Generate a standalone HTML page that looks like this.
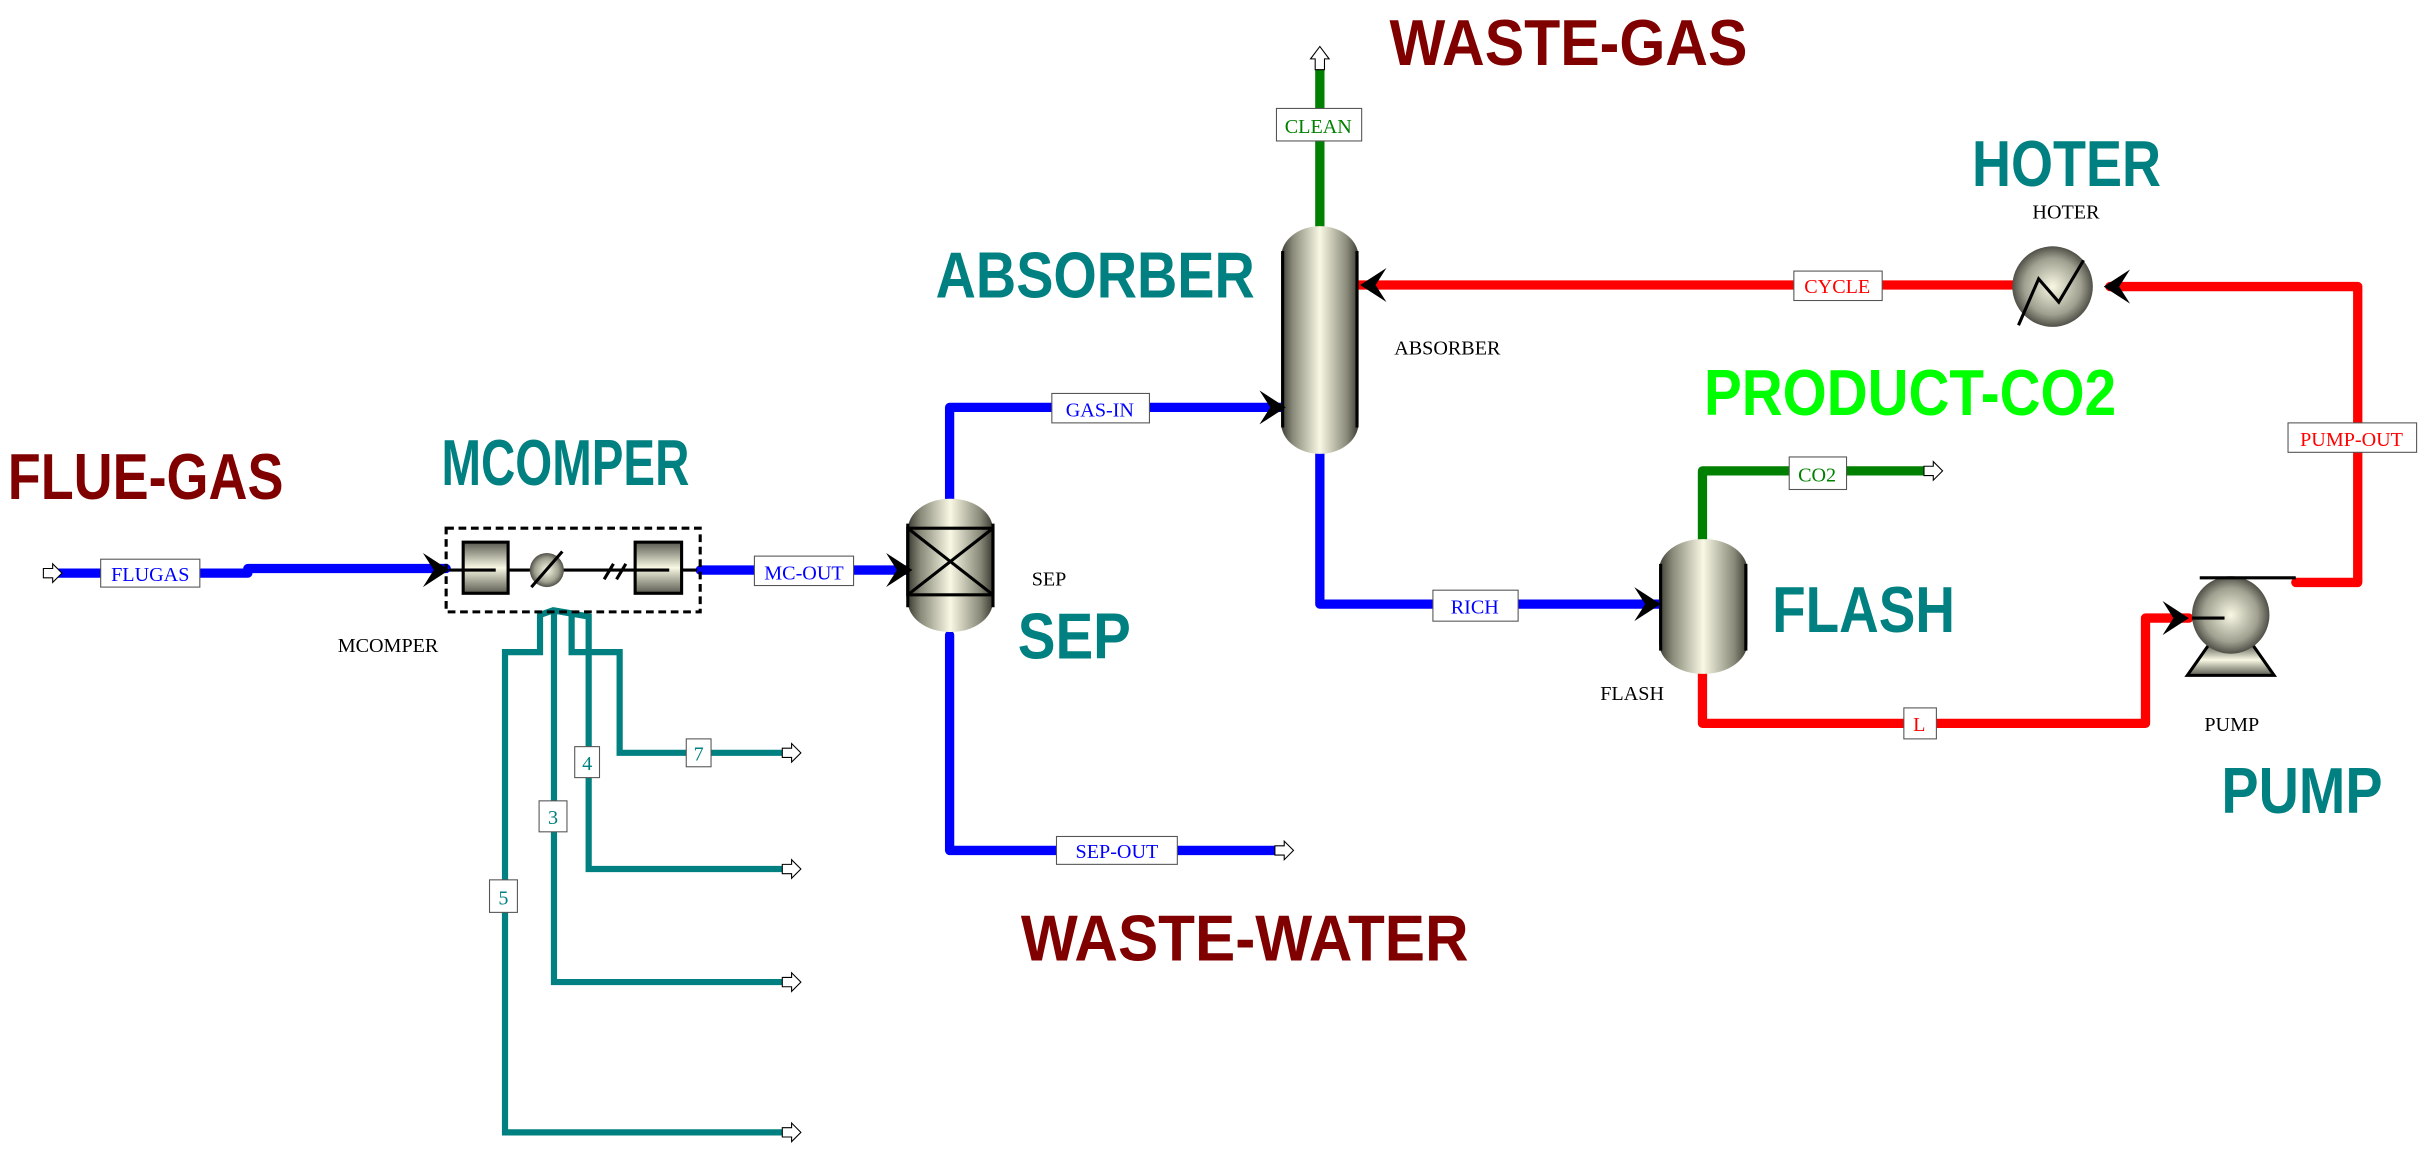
<!DOCTYPE html>
<html><head><meta charset="utf-8"><style>
html,body{margin:0;padding:0;background:#fff;}
svg{display:block;}
.big{font-family:"Liberation Sans",sans-serif;font-weight:bold;font-size:42px;}
.sm{font-family:"Liberation Serif",serif;font-size:13px;fill:#000;}
.lb{font-family:"Liberation Serif",serif;font-size:13px;}
</style></head><body>
<svg width="2429" height="1161" viewBox="0 0 1568 749.5" preserveAspectRatio="none" xmlns="http://www.w3.org/2000/svg">
<defs>
<linearGradient id="v" x1="0" x2="1" y1="0" y2="0">
<stop offset="0" stop-color="#3a3a32"/><stop offset="0.15" stop-color="#8a8a7a"/><stop offset="0.5" stop-color="#f8f8e4"/><stop offset="0.85" stop-color="#8a8a7a"/><stop offset="1" stop-color="#3a3a32"/>
</linearGradient>
<radialGradient id="r" cx="0.5" cy="0.5" r="0.5">
<stop offset="0" stop-color="#f8f8e4"/><stop offset="0.7" stop-color="#a0a090"/><stop offset="1" stop-color="#505048"/>
</radialGradient>
<linearGradient id="bx" x1="0" x2="0" y1="0" y2="1">
<stop offset="0" stop-color="#5a5a50"/><stop offset="0.5" stop-color="#f8f8e4"/><stop offset="1" stop-color="#5a5a50"/>
</linearGradient>
</defs>

<!-- big labels -->
<text class="big" x="5" y="322" fill="#800000" textLength="178" lengthAdjust="spacingAndGlyphs">FLUE-GAS</text>
<text class="big" x="285" y="313" fill="#008080" textLength="160" lengthAdjust="spacingAndGlyphs">MCOMPER</text>
<text class="big" x="604" y="192" fill="#008080" textLength="206" lengthAdjust="spacingAndGlyphs">ABSORBER</text>
<text class="big" x="897" y="42" fill="#800000" textLength="231" lengthAdjust="spacingAndGlyphs">WASTE-GAS</text>
<text class="big" x="1273" y="120" fill="#008080" textLength="122" lengthAdjust="spacingAndGlyphs">HOTER</text>
<text class="big" x="1100" y="268" fill="#00ff00" textLength="266" lengthAdjust="spacingAndGlyphs">PRODUCT-CO2</text>
<text class="big" x="1144" y="408" fill="#008080" textLength="118" lengthAdjust="spacingAndGlyphs">FLASH</text>
<text class="big" x="657" y="425" fill="#008080" textLength="73" lengthAdjust="spacingAndGlyphs">SEP</text>
<text class="big" x="1434" y="525" fill="#008080" textLength="104" lengthAdjust="spacingAndGlyphs">PUMP</text>
<text class="big" x="659" y="620" fill="#800000" textLength="289" lengthAdjust="spacingAndGlyphs">WASTE-WATER</text>

<!-- small block names -->
<text class="sm" x="218" y="421">MCOMPER</text>
<text class="sm" x="666" y="378">SEP</text>
<text class="sm" x="900" y="229">ABSORBER</text>
<text class="sm" x="1312" y="141">HOTER</text>
<text class="sm" x="1033" y="452">FLASH</text>
<text class="sm" x="1423" y="472">PUMP</text>

<!-- teal streams -->
<g fill="none" stroke="#008080" stroke-width="4" stroke-linejoin="miter">
<path d="M505,731 L326,731 L326,421 L348.6,421 L348.6,397 L357,394 L369,396"/>
<path d="M505,634 L357.6,634 L357.6,394"/>
<path d="M505,561 L380,561 L380,398 L357,394"/>
<path d="M505,486 L400,486 L400,421 L369,421 L369,396"/>
</g>

<!-- blue streams -->
<g fill="none" stroke="#0000ff" stroke-width="6" stroke-linecap="round" stroke-linejoin="round">
<path d="M35,370 L160,370 L160,367 L288,367"/>
<path d="M452,368 L586,368"/>
<path d="M613,322 L613,263 L828,263"/>
<path d="M613,410 L613,549 L825,549"/>
<path d="M852,292 L852,390 L1072,390"/>
</g>
<!-- green -->
<g fill="none" stroke="#008000" stroke-width="6" stroke-linecap="round" stroke-linejoin="round">
<path d="M852,148 L852,42"/>
<path d="M1099,350 L1099,304 L1242,304"/>
</g>
<!-- red -->
<g fill="none" stroke="#ff0000" stroke-width="6" stroke-linecap="round" stroke-linejoin="round">
<path d="M1099,434 L1099,467 L1385,467 L1385,399 L1413,399"/>
<path d="M1482,376 L1522,376 L1522,185 L1362,185"/>
<path d="M1300,184 L877,184"/>
</g>

<!-- open feed/product arrows -->
<g fill="#fff" stroke="#000" stroke-width="0.7">
<polygon points="28,367 34,367 34,364 40,370 34,376 34,373 28,373"/>
<polygon points="505,483 511,483 511,480 517,486 511,492 511,489 505,489"/>
<polygon points="505,558 511,558 511,555 517,561 511,567 511,564 505,564"/>
<polygon points="505,631 511,631 511,628 517,634 511,640 511,637 505,637"/>
<polygon points="505,728 511,728 511,725 517,731 511,737 511,734 505,734"/>
<polygon points="823,546 829,546 829,543 835,549 829,555 829,552 823,552"/>
<polygon points="1242,301 1248,301 1248,298 1254,304 1248,310 1248,307 1242,307"/>
<polygon points="849,45 849,38 846,38 852,30 858,38 855,38 855,45"/>
</g>

<!-- stream labels -->
<g stroke="#555" stroke-width="0.7" fill="#fff">
<rect x="65" y="361" width="64" height="18"/>
<rect x="487" y="359" width="64" height="19"/>
<rect x="679" y="254" width="63" height="19"/>
<rect x="824" y="70" width="55" height="21"/>
<rect x="682" y="540" width="78" height="18"/>
<rect x="925" y="381" width="55" height="20"/>
<rect x="1155" y="295" width="37" height="21"/>
<rect x="1229" y="457" width="21" height="20"/>
<rect x="1158" y="175" width="57" height="19"/>
<rect x="1477" y="273" width="83" height="19"/>
<rect x="443" y="477" width="16" height="18"/>
<rect x="371" y="482" width="16" height="20"/>
<rect x="348" y="517" width="18" height="20"/>
<rect x="316" y="568" width="18" height="21"/>
</g>
<g class="lb" text-anchor="middle">
<text x="97" y="375" fill="#0000ff">FLUGAS</text>
<text x="519" y="374" fill="#0000ff">MC-OUT</text>
<text x="710" y="269" fill="#0000ff">GAS-IN</text>
<text x="851" y="86" fill="#008000">CLEAN</text>
<text x="721" y="554" fill="#0000ff">SEP-OUT</text>
<text x="952" y="396" fill="#0000ff">RICH</text>
<text x="1173" y="311" fill="#008000">CO2</text>
<text x="1239" y="472" fill="#ff0000">L</text>
<text x="1186" y="189" fill="#ff0000">CYCLE</text>
<text x="1518" y="288" fill="#ff0000">PUMP-OUT</text>
<text x="451" y="491" fill="#008080">7</text>
<text x="379" y="497" fill="#008080">4</text>
<text x="357" y="532" fill="#008080">3</text>
<text x="325" y="584" fill="#008080">5</text>
</g>

<!-- MCOMPER block -->
<rect x="288" y="341" width="164" height="54" fill="none" stroke="#000" stroke-width="2" stroke-dasharray="5,3"/>
<line x1="290" y1="368" x2="450" y2="368" stroke="#000" stroke-width="2"/>
<rect x="299" y="350" width="29" height="33" fill="url(#bx)" stroke="#000" stroke-width="2"/>
<line x1="299" y1="368" x2="320" y2="368" stroke="#000" stroke-width="2"/>
<rect x="410" y="350" width="30" height="33" fill="url(#bx)" stroke="#000" stroke-width="2"/>
<line x1="410" y1="368" x2="432" y2="368" stroke="#000" stroke-width="2"/>
<circle cx="353" cy="368" r="11" fill="url(#r)"/>
<line x1="343" y1="379" x2="363" y2="356" stroke="#000" stroke-width="2"/>
<line x1="390" y1="374" x2="396" y2="364" stroke="#000" stroke-width="2"/>
<line x1="398" y1="374" x2="404" y2="364" stroke="#000" stroke-width="2"/>

<!-- SEP -->
<rect x="586" y="322" width="55" height="86" rx="27" ry="20" fill="url(#v)"/>
<rect x="586" y="341" width="55" height="43" fill="none" stroke="#000" stroke-width="2"/>
<line x1="586" y1="341" x2="641" y2="384" stroke="#000" stroke-width="2"/>
<line x1="641" y1="341" x2="586" y2="384" stroke="#000" stroke-width="2"/>
<line x1="586" y1="338" x2="586" y2="392" stroke="#000" stroke-width="2"/>
<line x1="641" y1="338" x2="641" y2="392" stroke="#000" stroke-width="2"/>

<!-- ABSORBER -->
<rect x="827" y="146" width="50" height="147" rx="25" ry="20" fill="url(#v)"/>
<line x1="828" y1="162" x2="828" y2="276" stroke="#000" stroke-width="2"/>
<line x1="876" y1="162" x2="876" y2="276" stroke="#000" stroke-width="2"/>

<!-- FLASH -->
<rect x="1071" y="348" width="57" height="87" rx="28" ry="20" fill="url(#v)"/>
<line x1="1072" y1="364" x2="1072" y2="420" stroke="#000" stroke-width="2"/>
<line x1="1127" y1="364" x2="1127" y2="420" stroke="#000" stroke-width="2"/>

<!-- HOTER -->
<circle cx="1325" cy="185" r="26" fill="url(#r)"/>
<polyline points="1303,210 1316,180 1329,195 1345,168" fill="none" stroke="#000" stroke-width="2"/>

<!-- PUMP -->
<polygon points="1412,436 1426,416 1454,416 1468,436" fill="url(#bx)" stroke="#000" stroke-width="2"/>
<circle cx="1440" cy="397" r="25" fill="url(#r)"/>
<line x1="1420" y1="373" x2="1482" y2="373" stroke="#000" stroke-width="2"/>
<line x1="1415" y1="399" x2="1436" y2="399" stroke="#000" stroke-width="2"/>

<!-- arrowheads -->
<g fill="#000">
<polygon points="273,357 290,368 273,379 280,368"/>
<polygon points="572,357 589,368 572,379 579,368"/>
<polygon points="813,252 830,263 813,274 820,263"/>
<polygon points="1055,379 1072,390 1055,401 1062,390"/>
<polygon points="1396,388 1413,399 1396,410 1403,399"/>
<polygon points="895,173 878,184 895,195 888,184"/>
<polygon points="1375,174 1358,185 1375,196 1368,185"/>
</g>
</svg>
</body></html>
